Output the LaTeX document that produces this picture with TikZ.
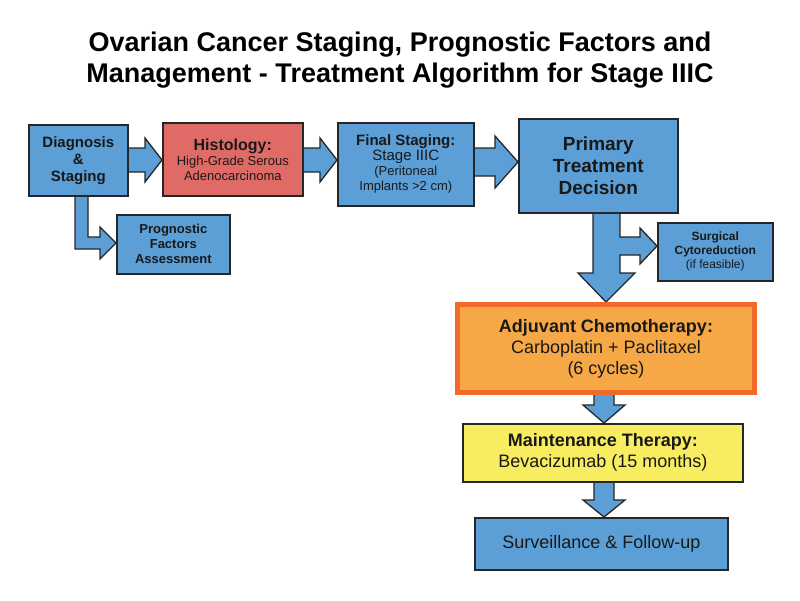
\documentclass[tikz,border=0pt]{standalone}
\usepackage{fontspec}
\setmainfont{Liberation Sans}
\definecolor{bb}{HTML}{5B9FD6}
\definecolor{rr}{HTML}{E06A66}
\definecolor{oo}{HTML}{F7A846}
\definecolor{ob}{HTML}{F06A2A}
\definecolor{yy}{HTML}{F8EC60}
\begin{document}
\begin{tikzpicture}[x=1pt,y=-1pt,
 box/.style={draw=black!85,line width=1.6pt,fill=bb,align=center,inner sep=0pt,anchor=north west,text=black!90},
 arr/.style={draw=black!85,line width=1.3pt,fill=bb,line join=miter}]
\useasboundingbox (0,0) rectangle (800,600);
\fill[white] (0,0) rectangle (800,600);
\node[font=\bfseries\fontsize{27}{31}\selectfont,align=center] (title) at (400,60) {Ovarian Cancer Staging, Prognostic Factors and\\Management - Treatment Algorithm for Stage IIIC};
% arrows
\draw[arr] (127,148)--(145,148)--(145,138)--(162,160)--(145,182)--(145,172)--(127,172)--cycle;
\draw[arr] (302,148)--(320,148)--(320,138)--(337,160)--(320,182)--(320,172)--(302,172)--cycle;
\draw[arr] (473,148)--(495,148)--(495,136)--(518,162)--(495,188)--(495,176)--(473,176)--cycle;
\draw[arr] (75,195)--(75,249)--(100,249)--(100,259)--(116,243)--(100,227)--(100,237)--(88,237)--(88,195)--cycle;
\draw[arr] (593,212)--(593,273)--(578,273)--(606,302)--(635,273)--(620,273)--(620,255)--(640,255)--(640,264)--(657,246)--(640,228)--(640,237)--(620,237)--(620,212)--cycle;
\draw[arr] (594,390)--(594,405)--(583,405)--(604,423)--(625,405)--(614,405)--(614,390)--cycle;
\draw[arr] (594,481)--(594,500)--(583,500)--(604,517)--(625,500)--(614,500)--(614,481)--cycle;
% boxes
\node[box,minimum width=99pt,minimum height=71pt,font=\bfseries\fontsize{15}{17}\selectfont] (diag) at (28,124) {Diagnosis\\\&\\Staging};
\node[box,fill=rr,minimum width=140pt,minimum height=73pt,font=\fontsize{13}{15}\selectfont] (hist) at (162,122) {{\bfseries\fontsize{16}{18}\selectfont Histology:}\\High-Grade Serous\\Adenocarcinoma};
\node[box,minimum width=136pt,minimum height=83pt,font=\fontsize{13}{15}\selectfont] (stag) at (337,122) {{\bfseries\fontsize{15}{17}\selectfont Final Staging:}\\{\fontsize{15}{17}\selectfont Stage IIIC}\\(Peritoneal\\Implants >2 cm)};
\node[box,minimum width=159pt,minimum height=94pt,font=\bfseries\fontsize{19}{22}\selectfont] (prim) at (518,118) {Primary\\Treatment\\Decision};
\node[box,minimum width=113pt,minimum height=59pt,font=\bfseries\fontsize{13}{15}\selectfont] (prog) at (116,214) {Prognostic\\Factors\\Assessment};
\node[box,minimum width=115pt,minimum height=58pt,font=\fontsize{12}{14}\selectfont] (surg) at (657,222) {{\bfseries Surgical}\\{\bfseries Cytoreduction}\\(if feasible)};
\node[box,fill=oo,draw=ob,line width=5pt,minimum width=297pt,minimum height=88pt,font=\fontsize{18}{21}\selectfont] (adj) at (455,302) {{\bfseries Adjuvant Chemotherapy:}\\Carboplatin + Paclitaxel\\(6 cycles)};
\node[box,fill=yy,minimum width=280pt,minimum height=58pt,font=\fontsize{18}{21}\selectfont] (main) at (462,423) {{\bfseries Maintenance Therapy:}\\Bevacizumab (15 months)};
\node[box,minimum width=253pt,minimum height=52pt,font=\fontsize{18}{21}\selectfont] (surv) at (474,517) {Surveillance \& Follow-up};
\end{tikzpicture}
\end{document}
